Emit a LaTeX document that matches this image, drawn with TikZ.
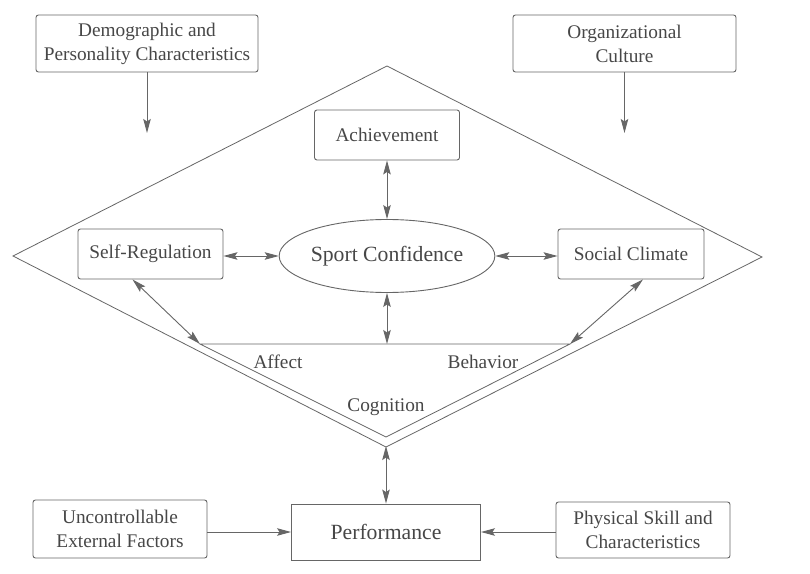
\documentclass[tikz,border=0pt]{standalone}
\usepackage{fontspec}
\setmainfont{Liberation Serif}
\newfontfamily\serf{Liberation Serif}
\usetikzlibrary{arrows.meta,shapes.geometric}
\definecolor{ln}{gray}{0.40}
\definecolor{tx}{gray}{0.28}
\tikzset{
  box/.style={draw=ln, line width=0.9bp, rounded corners=2.5bp, inner sep=0pt, align=center, text=tx,
    font=\serf\fontsize{19.3bp}{24bp}\selectfont},
  bigbox/.style={box, rounded corners=0pt, font=\serf\fontsize{21.7bp}{26bp}\selectfont},
  oval/.style={draw=ln, line width=0.9bp, ellipse, inner sep=0pt, text=tx,
    font=\serf\fontsize{21.7bp}{26bp}\selectfont},
  lbl/.style={text=tx, inner sep=0pt, font=\serf\fontsize{19.3bp}{24bp}\selectfont},
  conn/.style={draw=ln, line width=0.9bp},
  tip/.style={conn, -{Stealth[length=14bp,width=7.5bp,inset=2.5bp]}},
  tips/.style={conn, {Stealth[length=14bp,width=7.5bp,inset=2.5bp]}-{Stealth[length=14bp,width=7.5bp,inset=2.5bp]}},
  frame/.style={draw=ln, line width=0.8bp, line join=miter}
}
\begin{document}
\begin{tikzpicture}[x=1bp,y=-1bp]
\useasboundingbox[fill=white] (0,0) rectangle (810,574);

% diamond and inner triangle
\coordinate (L) at (13,256);
\coordinate (T) at (387,66);
\coordinate (R) at (762,257);
\coordinate (B) at (386,447);
\coordinate (A) at (200,344);
\coordinate (Bh) at (570,344);
\coordinate (C) at (386,437);
\coordinate (M) at (387,344);
\draw[frame] (L) -- (T) -- (R) -- (B) -- cycle;
\draw[frame] (A) -- (Bh) -- (C) -- cycle;

% nodes
\node[box, minimum width=222bp, minimum height=57bp] (demo) at (147,43.5) {Demographic and\\Personality Characteristics};
\node[box, minimum width=223bp, minimum height=57bp] (org) at (624.5,43.5) {Organizational\\Culture};
\node[box, minimum width=145bp, minimum height=50bp] (ach) at (387,135) {Achievement};
\node[oval, minimum width=170bp, minimum height=73bp] (sc) at (387,256) {Sport Confidence};
\node[box, minimum width=145bp, minimum height=50bp] (sr) at (150.5,254) {Self-Regulation};
\node[box, minimum width=146bp, minimum height=50bp] (soc) at (631,254) {Social Climate};
\node[bigbox, minimum width=189bp, minimum height=56bp] (perf) at (386,532) {Performance};
\node[box, minimum width=174bp, minimum height=58bp] (unc) at (120,529) {Uncontrollable\\External Factors};
\node[box, minimum width=174bp, minimum height=56bp] (phys) at (643,530) {Physical Skill and\\Characteristics};

\node[lbl] (aff) at (278,362) {Affect};
\node[lbl] (beh) at (483,362) {Behavior};
\node[lbl] (cog) at (386,407) {Cognition};

% free arrow ends
\coordinate (da) at (147,133);
\coordinate (oa) at (624.5,133);

% connectors
\draw[tip] (demo.south) -- (da);
\draw[tip] (org.south) -- (oa);
\draw[tips] (ach.south) -- (sc.north);
\draw[tips] (sr.east |- sc.west) -- (sc.west);
\draw[tips] (sc.east) -- (soc.west |- sc.east);
\draw[tips] (sc.south) -- (M);
\draw[tips] ([xshift=-18bp]sr.south) -- (A);
\draw[tips] ([xshift=12bp]soc.south) -- (Bh);
\draw[tips] ([yshift=1bp]B) -- (perf.north);
\draw[tip] (unc.east |- perf.west) -- (perf.west);
\draw[tip] (phys.west |- perf.east) -- (perf.east);
\end{tikzpicture}
\end{document}
